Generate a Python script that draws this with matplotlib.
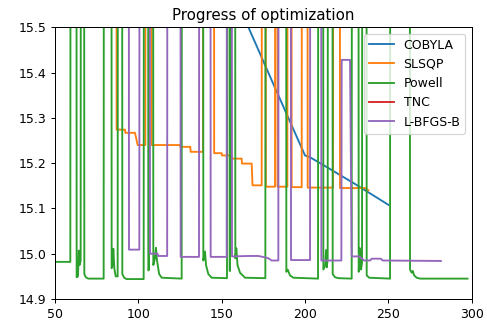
import matplotlib
matplotlib.use("Agg")
import matplotlib.pyplot as plt

# objective value per function evaluation for each method (values above 15.5 run off the top)
cobyla_x = [150, 160, 170, 180, 190, 200, 203, 210, 220, 230, 240, 250]
cobyla_y = [15.633, 15.55, 15.467, 15.383, 15.30, 15.217, 15.213, 15.198, 15.176, 15.154, 15.131, 15.108]

slsqp_x = [86.8, 87.0, 92.0, 92.2, 98.0, 99.6, 104.2, 104.4, 107.8, 108.0, 125.0, 125.2, 131.2,
           131.4, 138.8, 139.0, 145.3, 145.5, 150.0, 150.2, 156.0, 156.2, 162.0, 162.2, 168.0,
           168.5, 174.0, 174.2, 176.3, 176.5, 182.0, 182.2, 183.3, 183.5, 189.4, 189.6, 191.8,
           192.0, 198.0, 198.2, 201.4, 201.6, 216.8, 217.0, 220.8, 221.0, 236.0, 238.0]
slsqp_y = [16.5, 15.274, 15.274, 15.267, 15.267, 15.240, 15.240, 16.5, 16.5, 15.240, 15.240, 15.236,
           15.236, 15.225, 15.225, 16.5, 16.5, 15.222, 15.222, 15.217, 15.217, 15.210, 15.210,
           15.199, 15.199, 15.151, 15.151, 16.5, 16.5, 15.148, 15.148, 16.5, 16.5, 15.148, 15.148,
           16.5, 16.5, 15.147, 15.147, 16.5, 16.5, 15.146, 15.146, 16.5, 16.5, 15.145, 15.145, 15.14]

powell_x = [50, 59.2, 59.4, 62.8, 63.0, 63.8, 64.3, 64.8, 65.4, 65.6, 67.4, 67.6, 68.5, 70.0,
            79.2, 79.4, 83.8, 84.0, 84.6, 85.0, 85.6, 86.4, 87.6, 87.8, 90.2, 90.4, 91.5, 93.0,
            103.2, 103.4, 105.8, 106.0, 106.4, 106.6, 108.8, 109.0, 110.0, 110.6, 111.2, 112.5,
            114.0, 126.0, 126.2, 138.8, 139.0, 140.0, 140.6, 142.0, 144.0, 153.2, 153.4, 154.6,
            154.8, 155.0, 155.2, 158.0, 158.2, 158.8, 159.5, 161.0, 164.0, 176.2, 176.4, 188.6,
            188.8, 189.6, 191.0, 193.0, 207.8, 208.0, 210.8, 211.0, 212.2, 212.6, 213.1, 213.6,
            213.8, 216.4, 216.6, 218.0, 220.0, 228.0, 228.2, 232.0, 232.2, 233.0, 233.6, 234.2,
            234.4, 236.8, 237.0, 238.5, 251.0, 251.2, 262.8, 263.0, 264.0, 264.6, 265.5, 267.0,
            269.0, 297.5]
powell_y = [14.982, 14.982, 16.5, 16.5, 14.948, 14.95, 15.007, 14.975, 14.985, 16.5, 16.5, 14.955,
            14.948, 14.945, 14.945, 16.5, 16.5, 14.968, 14.975, 15.011, 14.968, 14.95, 14.95, 16.5,
            16.5, 14.955, 14.947, 14.944, 14.944, 16.5, 16.5, 14.963, 14.965, 16.5, 16.5, 14.975,
            14.99, 15.013, 14.985, 14.955, 14.947, 14.945, 16.5, 16.5, 14.985, 15.005, 14.975,
            14.955, 14.947, 14.946, 16.5, 16.5, 14.962, 14.962, 16.5, 16.5, 14.99, 15.012, 14.975,
            14.958, 14.947, 14.946, 16.5, 16.5, 14.96, 14.965, 14.952, 14.947, 14.945, 16.5, 16.5,
            14.965, 14.975, 15.008, 14.97, 14.99, 16.5, 16.5, 14.955, 14.948, 14.946, 14.945, 16.5,
            16.5, 14.96, 15.012, 14.965, 14.98, 16.5, 16.5, 14.952, 14.947, 14.945, 16.5, 16.5,
            14.965, 14.958, 14.962, 14.952, 14.947, 14.945, 14.945]

tnc_x = [50, 100, 150, 200]
tnc_y = [15.9, 15.8, 15.75, 15.7]

lbfgsb_x = [94.2, 94.4, 100.6, 100.8, 106.8, 107.0, 111.5, 112.0, 117.3, 117.5, 125.2, 125.4,
            136.4, 136.6, 143.2, 143.4, 153.0, 153.2, 156.0, 156.2, 166.0, 172.0, 176.0, 178.0,
            180.0, 184.0, 184.2, 191.4, 191.6, 203.0, 203.2, 209.6, 209.8, 221.8, 222.0, 227.0,
            228.0, 232.5, 235.5, 239.0, 240.0, 245.5, 246.5, 281.5]
lbfgsb_y = [16.5, 15.009, 15.009, 16.5, 16.5, 15.0, 15.0, 14.995, 14.995, 16.5, 16.5, 14.993,
            14.993, 16.5, 16.5, 14.993, 14.993, 16.5, 16.5, 14.994, 14.995, 14.995, 14.992, 14.99,
            14.985, 14.985, 16.5, 16.5, 14.986, 14.986, 16.5, 16.5, 14.985, 14.985, 15.428, 15.428,
            14.994, 14.994, 14.985, 14.985, 14.989, 14.989, 14.985, 14.984]

DPI = 90
fig = plt.figure(figsize=(487 / DPI, 325 / DPI), dpi=DPI)
ax = fig.add_axes([0.1129, 0.08, 0.8557, 0.836])

ax.plot(cobyla_x, cobyla_y, label="COBYLA")
ax.plot(slsqp_x, slsqp_y, label="SLSQP")
ax.plot(powell_x, powell_y, label="Powell")
ax.plot(tnc_x, tnc_y, label="TNC")
ax.plot(lbfgsb_x, lbfgsb_y, label="L-BFGS-B")

ax.set_xlim(50, 300)
ax.set_ylim(14.9, 15.5)
ax.set_title("Progress of optimization")
ax.legend(loc="upper right")

fig.savefig("out.png", dpi=DPI)
